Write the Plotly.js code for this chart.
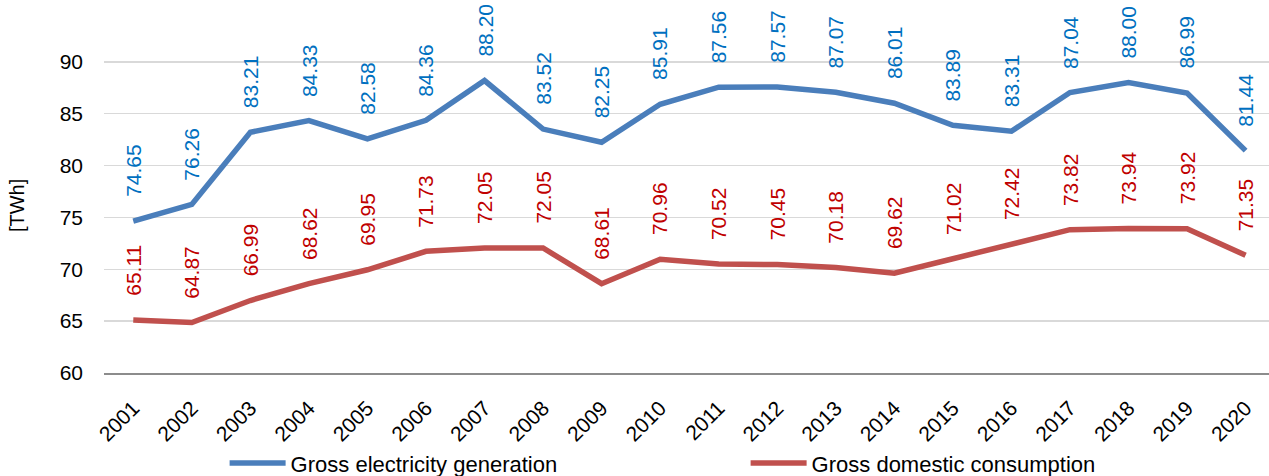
<!DOCTYPE html>
<html><head><meta charset="utf-8">
<script src="https://cdn.plot.ly/plotly-3.0.1.min.js"></script>
<style>html,body{margin:0;padding:0;background:#fff}#chart{width:1269px;height:476px}</style>
</head><body><div id="chart"></div>
<script>
const years = ["2001","2002","2003","2004","2005","2006","2007","2008","2009","2010","2011","2012","2013","2014","2015","2016","2017","2018","2019","2020"];
const generation = [74.65,76.26,83.21,84.33,82.58,84.36,88.20,83.52,82.25,85.91,87.56,87.57,87.07,86.01,83.89,83.31,87.04,88.00,86.99,81.44];
const consumption = [65.11,64.87,66.99,68.62,69.95,71.73,72.05,72.05,68.61,70.96,70.52,70.45,70.18,69.62,71.02,72.42,73.82,73.94,73.92,71.35];
const yTicks = [60,65,70,75,80,85,90];

const FONT = "Liberation Sans, Arial, sans-serif";
const blueLine = "#4a7ebb", redLine = "#c0504d";
const blueText = "#0070c0", redText = "#c00000";

const traces = [
  {x: years, y: generation, type: "scatter", mode: "lines", name: "Gross electricity generation",
   line: {color: blueLine, width: 5.5}},
  {x: years, y: consumption, type: "scatter", mode: "lines", name: "Gross domestic consumption",
   line: {color: redLine, width: 5.5}}
];

const annotations = [];
function addLabels(vals, color) {
  vals.forEach((v, i) => {
    annotations.push({x: i, y: v, xref: "x", yref: "y", text: v.toFixed(2),
      textangle: -90, showarrow: false, xanchor: "center", yanchor: "bottom", yshift: 22,
      font: {family: FONT, size: 21, color: color}});
  });
}
addLabels(generation, blueText);
addLabels(consumption, redText);
annotations.push({xref: "paper", yref: "paper", x: -0.074, y: 0.462, text: "[TWh]", textangle: -90,
  showarrow: false, xanchor: "center", yanchor: "middle", font: {family: FONT, size: 20, color: "#000"}});

const layout = {
  width: 1269, height: 476,
  margin: {l: 104, r: 0, t: 10, b: 103},
  paper_bgcolor: "#fff", plot_bgcolor: "#fff",
  font: {family: FONT, size: 20, color: "#000"},
  showlegend: true,
  legend: {orientation: "h", xref: "container", yref: "container", x: 0.177, xanchor: "left",
    y: 0.027, yanchor: "middle", bgcolor: "rgba(0,0,0,0)", itemwidth: 56,
    entrywidth: 450, entrywidthmode: "pixels", font: {family: FONT, size: 22, color: "#000"}},
  xaxis: {type: "category", range: [-0.5, 19.4], tickangle: -45, showgrid: false, automargin: false,
    showline: true, linecolor: "#8c8c8c", linewidth: 1.5, ticks: "", ticklabelstandoff: 13,
    tickfont: {family: FONT, size: 21, color: "#000"}, fixedrange: true},
  yaxis: {range: [60, 95], tickvals: yTicks, ticktext: yTicks.map(String), showgrid: true, automargin: false,
    gridcolor: "#d9d9d9", gridwidth: 1.5, zeroline: false, showline: false, ticks: "",
    ticklabelstandoff: 20, tickfont: {family: FONT, size: 21, color: "#000"}},
  annotations: annotations
};

Plotly.newPlot("chart", traces, layout, {displayModeBar: false, staticPlot: true});
</script></body></html>
